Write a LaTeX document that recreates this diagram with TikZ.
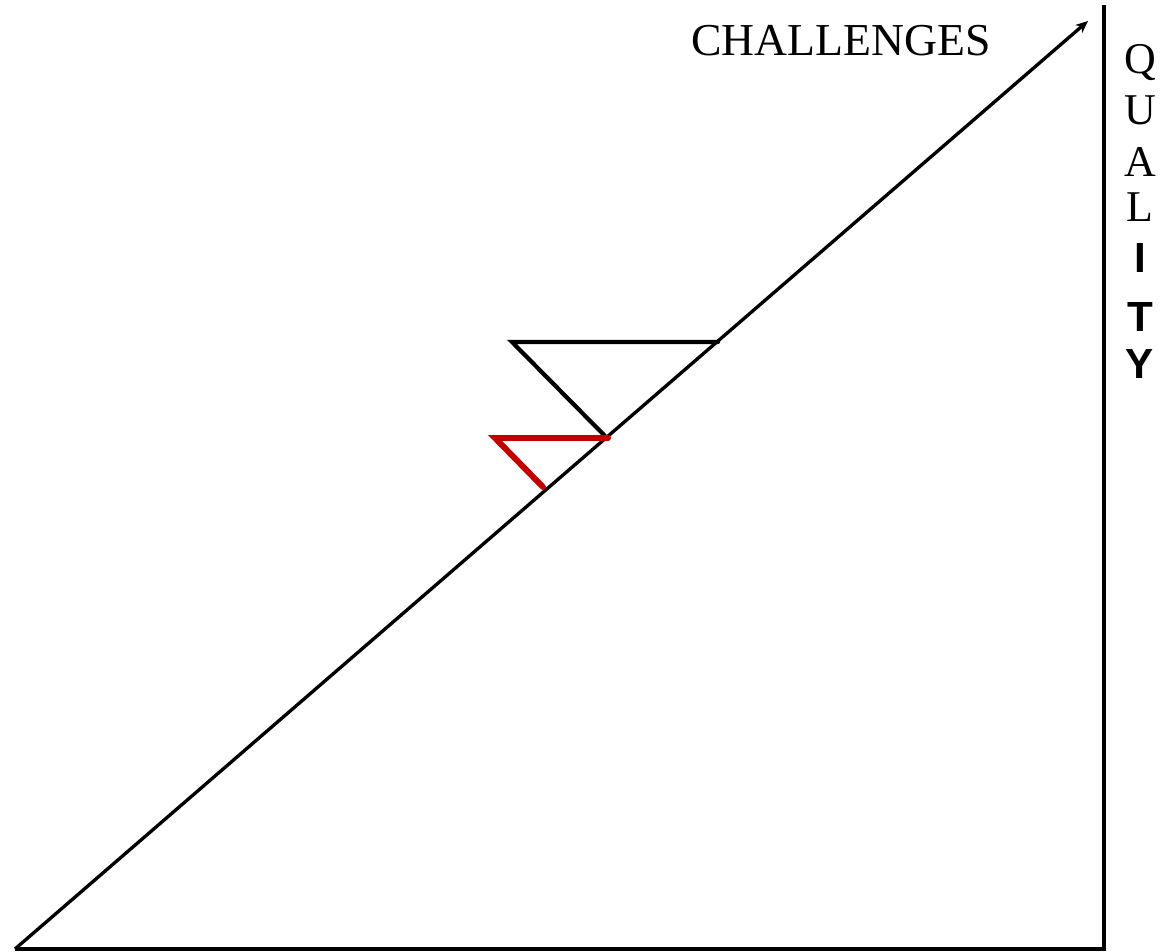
\documentclass[tikz,border=0pt]{standalone}
\usepackage{fontspec}
\setmainfont{Liberation Serif}
\setsansfont{Liberation Sans}
\usetikzlibrary{arrows.meta}
\definecolor{dropred}{RGB}{192,0,0}
\tikzset{
  axisline/.style={line width=2.2pt},
  stepline/.style={line width=2.4pt,line cap=round},
  redstep/.style={dropred,line width=3.4pt,line cap=round},
  serifletter/.style={anchor=base,inner sep=0pt,font=\fontsize{25}{28}\selectfont},
  boldletter/.style={anchor=base,inner sep=0pt,font=\sffamily\bfseries\fontsize{24}{27}\selectfont}
}
\begin{document}
\begin{tikzpicture}[x=0.02cm,y=-0.02cm]
    \useasboundingbox (0,0) rectangle (1162,952);

    \coordinate (origin) at (15,949);
    \coordinate (corner) at (1104,949);
    \coordinate (top) at (1104,5);
    \coordinate (tip) at (1088,21);

    \draw[axisline] (origin) -- (corner) -- (top);
    \draw[-{Stealth[length=7pt,width=6pt]},line width=1.9pt] (origin) -- (tip);

    % black step
    \coordinate (b1) at (718,342);
    \coordinate (b2) at (512,342);
    \coordinate (b3) at (605,436);
    \draw[stepline] (b1) -- (b2) -- (b3);

    % red step
    \coordinate (r1) at (608,438);
    \coordinate (r2) at (495,438);
    \coordinate (r3) at (543,487);
    \draw[redstep] (r1) -- (r2) -- (r3);

    \node[inner sep=0pt] (challenges) at (841,41) {\fontsize{26}{30}\selectfont CHALLENGES};

    \foreach \ch/\yy in {Q/74,U/125,A/177,L/222}
        \node[serifletter] (q-\ch) at (1140,\yy) {\ch};
    \foreach \ch/\yy in {I/273,T/332,Y/378}
        \node[boldletter] (q-\ch) at (1140,\yy) {\ch};
\end{tikzpicture}
\end{document}
